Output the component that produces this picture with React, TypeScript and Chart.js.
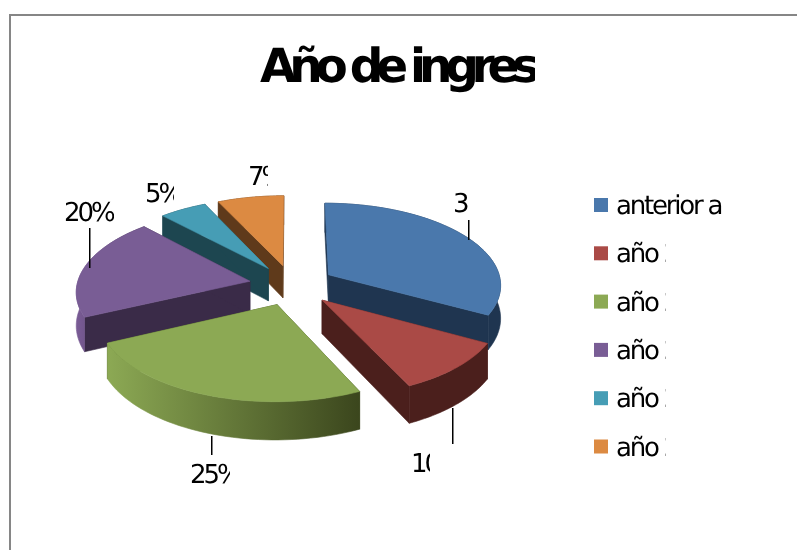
import React, { useEffect, useRef } from "react";
import { Chart, registerables } from "chart.js";

Chart.register(...registerables);

const categories = ["anterior a", "año 2", "año 2", "año 2", "año 2", "año 2"];
const values = [33, 10, 25, 20, 5, 7];
const chartTitle = "Año de ingres";
const topColors = ["#4A78AC", "#AA4A46", "#8CA954", "#795D95", "#469DB5", "#DC8A42"];
const wallStart = ["#1F3550", "#4B1F1C", "#8CA954", "#7A5C96", "#1D4650", "#5F3A1B"];
const wallEnd = ["#1F3550", "#4B1F1C", "#3B461D", "#3A2B48", "#1D4650", "#5F3A1B"];
const legendClip = [722, 666, 666, 666, 666, 666];

// label placement: [x, baseline, clip right]
const labelPos = [
  [453, 212, 468],
  [411, 472, 430],
  [190, 483, 230],
  [64, 221, 114],
  [145, 202, 174],
  [248, 185, 268],
];
const leaders = [
  [468, 220, 240],
  [452, 408, 444],
  [211, 436, 455],
  [89, 228, 268],
  null,
  null,
];

const FONT = '"DejaVu Sans", sans-serif';
const TILT = 0.472;
const PERSPECTIVE = 0.00064;
const DEPTH = 33;

const pie3d = {
  id: "pie3d",
  beforeDatasetsDraw(chart: any) {
    const c = chart.ctx;
    const arcs = chart.getDatasetMeta(0).data;
    const project = (el: any, dx: number, dy: number, z: number) => {
      const s = 1 / (1 - PERSPECTIVE * dy);
      return [el.x + dx * s, el.y + TILT * dy * s + z * DEPTH * s];
    };
    const poly = (pts: number[][], fill: any) => {
      c.beginPath();
      pts.forEach((p, i) => (i ? c.lineTo(p[0], p[1]) : c.moveTo(p[0], p[1])));
      c.closePath();
      c.fillStyle = fill;
      c.strokeStyle = fill;
      c.lineWidth = 0.6;
      c.fill();
      c.stroke();
    };
    const order = arcs
      .map((el: any, i: number) => ({ el, i, mid: (el.startAngle + el.endAngle) / 2 }))
      .sort((a: any, b: any) => Math.sin(a.mid) - Math.sin(b.mid));
    c.save();
    for (const { el, i, mid } of order) {
      const off = el.options.offset;
      const ox = Math.cos(mid) * off;
      const oy = Math.sin(mid) * off;
      const R = el.outerRadius;
      const n = 48;
      const edge: number[][] = [];
      for (let j = 0; j <= n; j++) {
        const a = el.startAngle + ((el.endAngle - el.startAngle) * j) / n;
        edge.push([ox + Math.cos(a) * R, oy + Math.sin(a) * R]);
      }
      const top = edge.map((p) => project(el, p[0], p[1], 0));
      const bottom = edge.map((p) => project(el, p[0], p[1], 1));
      const apexT = project(el, ox, oy, 0);
      const apexB = project(el, ox, oy, 1);
      const xs = top.map((p) => p[0]);
      const grad = c.createLinearGradient(Math.min(...xs), 0, Math.max(...xs), 0);
      grad.addColorStop(0, wallStart[i]);
      grad.addColorStop(1, wallEnd[i]);
      const face = wallEnd[i];
      poly([apexT, top[0], bottom[0], apexB], face);
      poly([apexT, top[n], bottom[n], apexB], face);
      poly([...top, ...bottom.slice().reverse()], grad);
      poly([apexT, ...top], topColors[i]);
    }
    c.restore();
    return false;
  },
  afterDraw(chart: any) {
    const c = chart.ctx;
    const clipped = (right: number, draw: () => void) => {
      c.save();
      c.beginPath();
      c.rect(0, 0, right, chart.height);
      c.clip();
      draw();
      c.restore();
    };
    c.save();
    c.textBaseline = "alphabetic";
    c.textAlign = "left";
    c.textRendering = "geometricPrecision";
    c.fillStyle = "#000";
    // title
    c.font = `bold 47px ${FONT}`;
    c.letterSpacing = "-7.2px";
    clipped(535, () => c.fillText(chartTitle, 260, 82));
    // data labels
    c.font = `26px ${FONT}`;
    c.letterSpacing = "-3px";
    values.forEach((v, i) => {
      const [x, y, right] = labelPos[i];
      clipped(right, () => c.fillText(`${v}%`, x, y));
      const l = leaders[i];
      if (l) {
        c.fillStyle = "#000";
        c.fillRect(l[0], l[1], 1.5, l[2] - l[1]);
      }
    });
    // legend
    categories.forEach((label, i) => {
      const yc = 205 + i * 48.3;
      c.fillStyle = topColors[i];
      c.fillRect(594, yc - 7, 14, 14);
      c.fillStyle = "#000";
      c.letterSpacing = "-2.2px";
      clipped(legendClip[i], () => c.fillText(label, 616, yc + 9));
    });
    c.restore();
  },
};

export default function App() {
  const ref = useRef<HTMLCanvasElement>(null);
  useEffect(() => {
    const chart = new Chart(ref.current as HTMLCanvasElement, {
      type: "pie",
      data: {
        labels: categories,
        datasets: [{ data: values, backgroundColor: topColors, offset: 43, borderWidth: 0 }],
      },
      options: {
        responsive: false,
        animation: false,
        radius: 173,
        layout: { padding: { left: 72, right: 285, top: 65, bottom: 45 } },
        plugins: { legend: { display: false }, title: { display: false }, tooltip: { enabled: false } },
      } as any,
      plugins: [pie3d as any],
    });
    return () => chart.destroy();
  }, []);
  return (
    <div style={{ position: "fixed", left: 0, top: 0, width: 797, height: 550, overflow: "hidden", background: "#fff" }}>
      <canvas ref={ref} width={797} height={550} style={{ display: "block", filter: "blur(0.4px)" }} />
      <div
        style={{
          position: "absolute",
          left: 9,
          top: 14,
          width: 800,
          height: 560,
          borderLeft: "2px solid #868686",
          borderTop: "2px solid #868686",
        }}
      />
    </div>
  );
}
